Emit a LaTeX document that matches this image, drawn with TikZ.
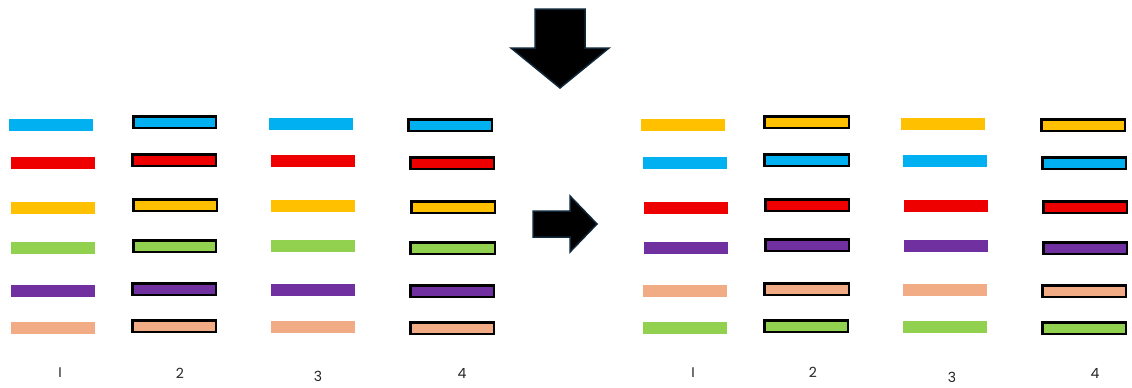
\documentclass[tikz,border=0pt]{standalone}
\usepackage{fontspec}
\setmainfont{Poppins}
\definecolor{bcyan}{HTML}{00B0F0}
\definecolor{bred}{HTML}{EE0000}
\definecolor{byellow}{HTML}{FFC000}
\definecolor{bgreen}{HTML}{92D050}
\definecolor{bpurple}{HTML}{7030A0}
\definecolor{bsalmon}{HTML}{F2AC85}
\definecolor{arrowedge}{HTML}{10283A}
\tikzset{
  plainbar/.style={fill=#1, draw=none},
  boxbar/.style={fill=#1, draw=black, line width=2.5pt},
  bigarrow/.style={fill=black, draw=arrowedge, line width=1.5pt, line join=miter},
  lbl/.style={font=\fontsize{14}{16}\selectfont, text=black!85, inner sep=0pt}
}
\newcommand\pbar[4]{\path[plainbar=#4] (#1,#2) rectangle (#3,#2+12);}
\newcommand\bbar[4]{\path[boxbar=#4] (#1+1.25,#2+1.25) rectangle (#3-1.25,#2+12.75);}
\begin{document}
\begin{tikzpicture}[x=1pt,y=-1pt]
\useasboundingbox (0,0) rectangle (1132,388);
\fill[white] (0,0) rectangle (1132,388);

% top arrow
\path[bigarrow] (535,9) -- (585,9) -- (585,48) -- (609,48) -- (560,88) -- (511,48) -- (535,48) -- cycle;
% middle arrow
\path[bigarrow] (533,211) -- (570,211) -- (570,196) -- (597,224) -- (570,252) -- (570,237) -- (533,237) -- cycle;

% left group
\pbar{9}{119}{93}{bcyan}
\pbar{11}{157}{95}{bred}
\pbar{11}{202}{95}{byellow}
\pbar{11}{242}{95}{bgreen}
\pbar{11}{285}{95}{bpurple}
\pbar{11}{322}{95}{bsalmon}

\bbar{132}{115}{217}{bcyan}
\bbar{131}{153}{217}{bred}
\bbar{132}{198}{218}{byellow}
\bbar{132}{239}{217}{bgreen}
\bbar{131}{282}{217}{bpurple}
\bbar{131}{319}{217}{bsalmon}

\pbar{269}{118}{353}{bcyan}
\pbar{271}{155}{355}{bred}
\pbar{271}{200}{355}{byellow}
\pbar{271}{240}{355}{bgreen}
\pbar{271}{284}{355}{bpurple}
\pbar{271}{321}{355}{bsalmon}

\bbar{407}{118}{493}{bcyan}
\bbar{409}{156}{495}{bred}
\bbar{410}{200}{496}{byellow}
\bbar{409}{241}{496}{bgreen}
\bbar{409}{284}{495}{bpurple}
\bbar{409}{321}{495}{bsalmon}

% right group
\pbar{641}{119}{725}{byellow}
\pbar{643}{157}{727}{bcyan}
\pbar{644}{202}{728}{bred}
\pbar{644}{242}{728}{bpurple}
\pbar{643}{285}{727}{bsalmon}
\pbar{643}{322}{727}{bgreen}

\bbar{763}{115}{850}{byellow}
\bbar{763}{153}{850}{bcyan}
\bbar{764}{198}{850}{bred}
\bbar{764}{238}{850}{bpurple}
\bbar{763}{282}{850}{bsalmon}
\bbar{763}{319}{849}{bgreen}

\pbar{901}{118}{985}{byellow}
\pbar{903}{155}{987}{bcyan}
\pbar{904}{200}{988}{bred}
\pbar{904}{240}{988}{bpurple}
\pbar{903}{284}{987}{bsalmon}
\pbar{903}{321}{987}{bgreen}

\bbar{1040}{118}{1126}{byellow}
\bbar{1041}{156}{1127}{bcyan}
\bbar{1042}{200}{1128}{bred}
\bbar{1042}{241}{1128}{bpurple}
\bbar{1041}{284}{1127}{bsalmon}
\bbar{1041}{321}{1127}{bgreen}

% labels
\node[lbl] (l1) at (60,373) {I};
\node[lbl] (l2) at (180,373) {2};
\node[lbl] (l3) at (318,376) {3};
\node[lbl] (l4) at (462,373) {4};
\node[lbl] (r1) at (693,373) {I};
\node[lbl] (r2) at (813,372) {2};
\node[lbl] (r3) at (952,377) {3};
\node[lbl] (r4) at (1095,373) {4};
\end{tikzpicture}
\end{document}
